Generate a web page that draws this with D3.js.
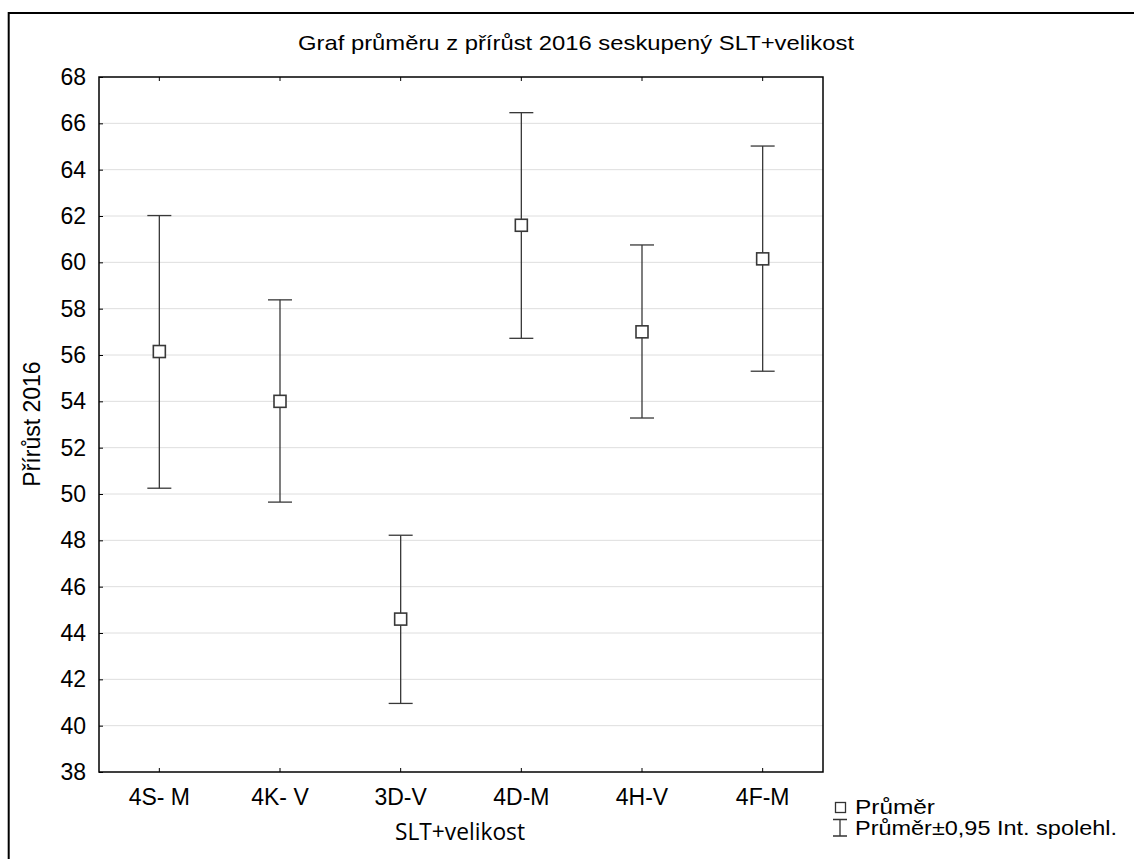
<!DOCTYPE html>
<html>
<head>
<meta charset="utf-8">
<script src="https://cdn.jsdelivr.net/npm/d3@7"></script>
<style>
  body { margin: 0; background: #fff; }
  svg { display: block; }
</style>
</head>
<body>
<svg id="chart" width="1134" height="859"></svg>
<script>
// values
var categories = ["4S- M", "4K- V", "3D-V", "4D-M", "4H-V", "4F-M"];
var means      = [56.15, 54.0, 44.6, 61.6, 57.0, 60.15];
var lower      = [50.25, 49.65, 40.96, 56.72, 53.28, 55.3];
var upper      = [62.02, 58.38, 48.22, 66.46, 60.75, 65.02];
var yTicks     = d3.range(38, 69, 2);

var svg = d3.select("#chart");
var margin = {left: 99, top: 77, right: 823, bottom: 772};
var arial = "'Liberation Sans', Arial, sans-serif";

var x = d3.scaleBand()
    .domain(categories)
    .range([margin.left, margin.right]);

var y = d3.scaleLinear()
    .domain([38, 68])
    .range([margin.bottom, margin.top]);

// outer frame (top + left edge only visible)
svg.append("path")
    .attr("d", "M8.7,859 L8.7,13 L1134,13")
    .attr("fill", "none")
    .attr("stroke", "#000")
    .attr("stroke-width", 2);

// grid lines
svg.append("g")
  .selectAll("line")
  .data(yTicks.filter(function(d) { return d > 38 && d < 68; }))
  .enter().append("line")
    .attr("x1", margin.left).attr("x2", margin.right)
    .attr("y1", function(d) { return y(d); })
    .attr("y2", function(d) { return y(d); })
    .attr("stroke", "#dedede")
    .attr("stroke-width", 1);

// left axis, ticks pointing inward
var yAxis = svg.append("g")
    .attr("transform", "translate(" + margin.left + ",0)")
    .call(d3.axisLeft(y).tickValues(yTicks).tickSizeInner(-4).tickSizeOuter(0).tickPadding(13));
yAxis.select(".domain").remove();
yAxis.selectAll("text")
    .attr("font-family", arial)
    .attr("font-size", 23)
    .attr("fill", "#000");
yAxis.selectAll("line").attr("stroke", "#000");

// bottom axis
var xAxis = svg.append("g")
    .attr("transform", "translate(0," + margin.bottom + ")")
    .call(d3.axisBottom(x).tickSizeInner(-4).tickSizeOuter(0).tickPadding(17));
xAxis.select(".domain").remove();
xAxis.selectAll("text")
    .attr("font-family", arial)
    .attr("font-size", 23)
    .attr("fill", "#000");
xAxis.selectAll("line").attr("stroke", "#000");

// top ticks
var topAxis = svg.append("g")
    .attr("transform", "translate(0," + margin.top + ")")
    .call(d3.axisTop(x).tickSizeInner(-4).tickSizeOuter(0).tickFormat(""));
topAxis.select(".domain").remove();
topAxis.selectAll("line").attr("stroke", "#000");

// plot frame
svg.append("rect")
    .attr("x", margin.left).attr("y", margin.top)
    .attr("width", margin.right - margin.left)
    .attr("height", margin.bottom - margin.top)
    .attr("fill", "none")
    .attr("stroke", "#000")
    .attr("stroke-width", 1.5);

// error bars
var cx = function(i) { return x(categories[i]) + x.bandwidth() / 2; };
var bars = svg.append("g")
  .selectAll("g")
  .data(categories)
  .enter().append("g")
    .attr("stroke", "#383838")
    .attr("stroke-width", 1.3)
    .attr("fill", "none");

bars.append("line")
    .attr("x1", function(d, i) { return cx(i); })
    .attr("x2", function(d, i) { return cx(i); })
    .attr("y1", function(d, i) { return y(upper[i]); })
    .attr("y2", function(d, i) { return y(lower[i]); });
bars.append("line")
    .attr("x1", function(d, i) { return cx(i) - 12; })
    .attr("x2", function(d, i) { return cx(i) + 12; })
    .attr("y1", function(d, i) { return y(upper[i]); })
    .attr("y2", function(d, i) { return y(upper[i]); });
bars.append("line")
    .attr("x1", function(d, i) { return cx(i) - 12; })
    .attr("x2", function(d, i) { return cx(i) + 12; })
    .attr("y1", function(d, i) { return y(lower[i]); })
    .attr("y2", function(d, i) { return y(lower[i]); });
bars.append("rect")
    .attr("x", function(d, i) { return cx(i) - 6; })
    .attr("y", function(d, i) { return y(means[i]) - 6; })
    .attr("width", 12).attr("height", 12)
    .attr("fill", "#fff")
    .attr("stroke-width", 1.6);

// title and axis labels
svg.append("text")
    .attr("x", 298).attr("y", 49.5)
    .attr("font-family", arial)
    .attr("font-size", 21)
    .attr("textLength", 556)
    .attr("lengthAdjust", "spacingAndGlyphs")
    .text("Graf průměru z přírůst 2016 seskupený SLT+velikost");

svg.append("text")
    .attr("transform", "translate(40,424) rotate(-90)")
    .attr("text-anchor", "middle")
    .attr("font-family", arial)
    .attr("font-size", 23)
    .text("Přírůst 2016");

svg.append("text")
    .attr("x", 395).attr("y", 840)
    .attr("font-family", "'Open Sans', sans-serif")
    .attr("font-size", 23)
    .attr("textLength", 130)
    .attr("lengthAdjust", "spacingAndGlyphs")
    .text("SLT+velikost");

// legend
var legend = svg.append("g")
    .attr("font-family", arial)
    .attr("font-size", 21);
legend.append("rect")
    .attr("x", 835.5).attr("y", 802.5).attr("width", 10).attr("height", 10)
    .attr("fill", "#fff").attr("stroke", "#333").attr("stroke-width", 1.3);
legend.append("text").attr("x", 855).attr("y", 814)
    .attr("textLength", 80).attr("lengthAdjust", "spacingAndGlyphs")
    .text("Průměr");
legend.append("path")
    .attr("d", "M833,819.5 H847 M840,819.5 V836 M833,836 H847")
    .attr("fill", "none").attr("stroke", "#333").attr("stroke-width", 1.3);
legend.append("text").attr("x", 855).attr("y", 835)
    .attr("textLength", 262).attr("lengthAdjust", "spacingAndGlyphs")
    .text("Průměr±0,95 Int. spolehl.");
</script>
</body>
</html>
